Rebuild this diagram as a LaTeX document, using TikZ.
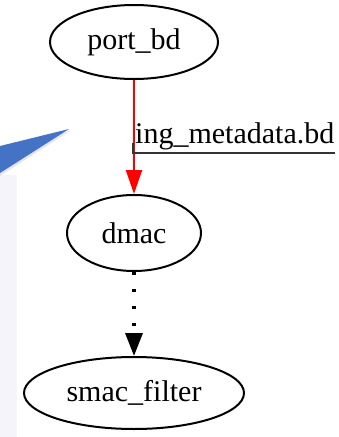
\documentclass[tikz,border=0pt]{standalone}
\usepackage{fontspec}
\setmainfont{Liberation Serif}
\usepackage{tikz}
\usetikzlibrary{arrows.meta,positioning}
\usetikzlibrary{shapes.geometric}
\definecolor{calloutblue}{HTML}{4472C4}
\definecolor{panelgray}{HTML}{F4F4FA}

\begin{document}
\begin{tikzpicture}[
        x=1pt, y=-1pt,
        every node/.style={font=\fontsize{30}{32}\selectfont},
        block/.style={draw, ellipse, line width=2pt, inner sep=0pt},
        redarrow/.style={-{Triangle[length=24pt,width=16pt]}, red, line width=2pt},
        dotarrow/.style={-{Triangle[length=23pt,width=17pt]}, line width=3.4pt,
            dash pattern=on 3.4pt off 13.5pt, line cap=butt},
        node distance=2cm
    ]
    \useasboundingbox (0,0) rectangle (339,437);

    % Background panel and callout pointer
    \fill[panelgray] (0,175) rectangle (17,437);
    \fill[black!20, opacity=0.5] (0,148) -- (70,131) -- (0,176) -- cycle;
    \fill[calloutblue] (0,146) -- (69,129) -- (0,173) -- cycle;

    % Port Node
    \node[block, minimum width=168pt, minimum height=74pt] (port) at (134,42) {port\_bd};

    % DMAC Node
    \node[block, minimum width=134pt, minimum height=76pt, below=114pt of port] (dmac) {dmac};

    % Filter Node
    \node[block, minimum width=220pt, minimum height=72pt, below=84pt of dmac] (filter) {smac\_filter};

    % Arrows
    \draw[redarrow] (port.south) -- (dmac.north);
    \draw[dotarrow] (dmac.south) -- (filter.north);

    % Edge label
    \node[anchor=base west, inner sep=0pt] (meta) at (135,143) {ing\_metadata.bd};
    \coordinate (ul) at (133,153);
    \draw[line width=2pt, black!80] (ul |- meta.base) -- (ul) -- (ul -| meta.east);

\end{tikzpicture}
\end{document}
